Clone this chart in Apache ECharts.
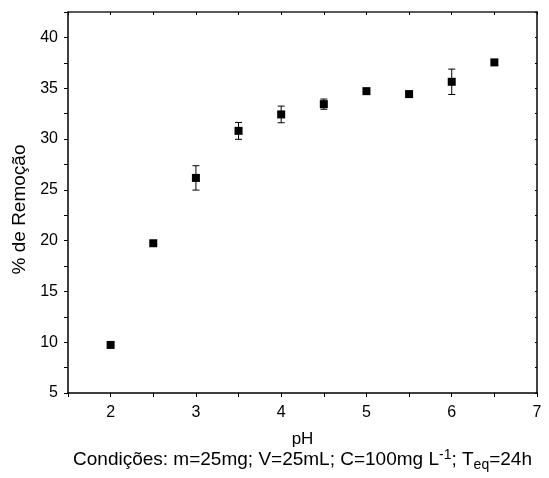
<!DOCTYPE html>
<html>
<head>
<meta charset="utf-8">
<script src="https://cdn.jsdelivr.net/npm/echarts@6/dist/echarts.min.js"></script>
<style>
  html, body { margin: 0; padding: 0; background: #fff; }
  #chart { width: 549px; height: 478px; }
</style>
</head>
<body>
<div id="chart"></div>
<script>
// pH values and % removal with error (std dev)
const ph = [2, 2.5, 3, 3.5, 4, 4.5, 5, 5.5, 6, 6.5];
const removal = [9.73, 19.74, 26.17, 30.8, 32.42, 33.43, 34.71, 34.42, 35.63, 37.54];
const errors = [0, 0, 1.2, 0.83, 0.82, 0.5, 0, 0, 1.25, 0];

const font = "Liberation Sans, Arial, sans-serif";

var chart = echarts.init(document.getElementById("chart"));

const points = ph.map((x, i) => [x, removal[i]]);
const bars = ph.map((x, i) => [x, removal[i] - errors[i], removal[i] + errors[i]]).filter((d, i) => errors[i] > 0);

function errorBar(params, api) {
  const x = api.value(0);
  const lo = api.coord([x, api.value(1)]);
  const hi = api.coord([x, api.value(2)]);
  const half = 3.5;
  const style = { stroke: "#000", lineWidth: 1 };
  return {
    type: "group",
    children: [
      { type: "line", shape: { x1: lo[0], y1: lo[1], x2: hi[0], y2: hi[1] }, style: style },
      { type: "line", shape: { x1: lo[0] - half, y1: lo[1], x2: lo[0] + half, y2: lo[1] }, style: style },
      { type: "line", shape: { x1: hi[0] - half, y1: hi[1], x2: hi[0] + half, y2: hi[1] }, style: style }
    ]
  };
}

let option = {
  animation: false,
  grid: { left: 68, top: 12, right: 12, bottom: 85 },
  xAxis: [
    {
      type: "value",
      min: 1.5,
      max: 7,
      interval: 0.5,
      position: "bottom",
      name: "{n|pH}\n{c|Condições: m=25mg; V=25mL; C=100mg L}{sup|-1}{c|; T}{sub|eq}{c|=24h}",
      nameLocation: "middle",
      nameGap: 38,
      nameTextStyle: {
        rich: {
          n: { fontFamily: font, fontSize: 17, color: "#000", lineHeight: 17, align: "center" },
          c: { fontFamily: font, fontSize: 19, color: "#000", lineHeight: 24 },
          sup: { fontFamily: font, fontSize: 14, color: "#000", lineHeight: 24, verticalAlign: "top", padding: [0, 0, 10, 0] },
          sub: { fontFamily: font, fontSize: 14, color: "#000", lineHeight: 24, verticalAlign: "bottom", padding: [9, 0, 0, 0] }
        }
      },
      axisLine: { onZero: false, lineStyle: { color: "#000", width: 1.5 } },
      axisTick: { inside: false, length: 4, lineStyle: { color: "#000" } },
      axisLabel: {
        fontFamily: font, fontSize: 16, color: "#000", margin: 12,
        formatter: v => (Number.isInteger(v) && v > 1.5 ? String(v) : "")
      },
      splitLine: { show: false }
    },
    {
      type: "value",
      min: 1.5,
      max: 7,
      interval: 0.5,
      position: "top",
      axisLine: { onZero: false, lineStyle: { color: "#222", width: 1.5 } },
      axisTick: { inside: true, length: 3, lineStyle: { color: "#000" } },
      axisLabel: { show: false },
      splitLine: { show: false }
    }
  ],
  yAxis: [
    {
      type: "value",
      min: 5,
      max: 42.5,
      interval: 2.5,
      position: "left",
      name: "% de Remoção",
      nameLocation: "middle",
      nameGap: 35,
      nameTextStyle: { fontFamily: font, fontSize: 19, color: "#000", padding: [0, 14, 0, 0] },
      axisLine: { onZero: false, lineStyle: { color: "#000", width: 1.5 } },
      axisTick: { inside: false, length: 4, lineStyle: { color: "#000" } },
      axisLabel: {
        fontFamily: font, fontSize: 16, color: "#000", margin: 10,
        formatter: v => (v % 5 === 0 ? String(v) : "")
      },
      splitLine: { show: false }
    },
    {
      type: "value",
      min: 5,
      max: 42.5,
      interval: 2.5,
      position: "right",
      axisLine: { onZero: false, lineStyle: { color: "#444", width: 2 } },
      axisTick: { inside: true, length: 2, lineStyle: { color: "#000" } },
      axisLabel: { show: false },
      splitLine: { show: false }
    }
  ],
  series: [
    {
      name: "Erro",
      type: "custom",
      renderItem: errorBar,
      data: bars,
      z: 1
    },
    {
      name: "Remoção",
      type: "scatter",
      symbol: "rect",
      symbolSize: 8,
      itemStyle: { color: "#000", opacity: 1 },
      data: points,
      z: 3
    }
  ]
};

option && chart.setOption(option);
</script>
</body>
</html>
